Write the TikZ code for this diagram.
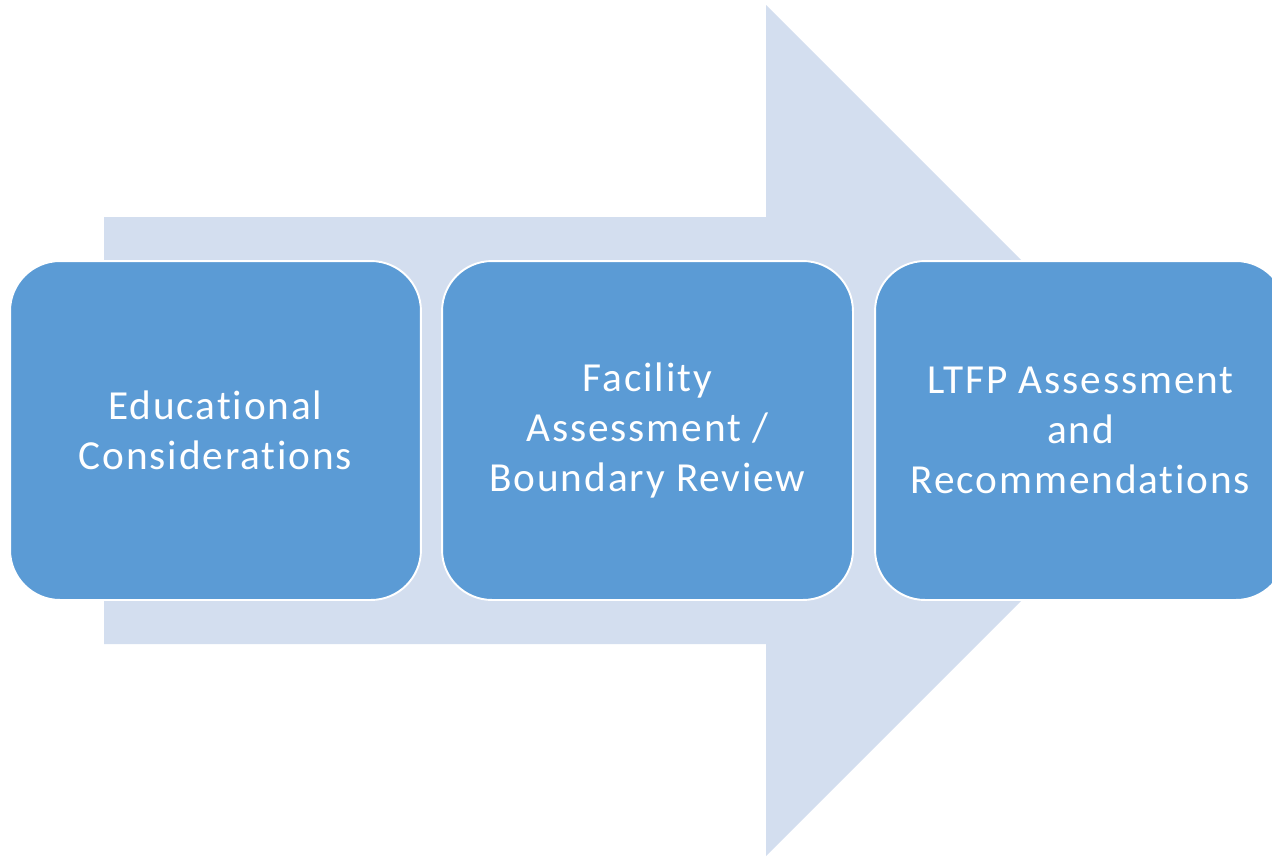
\documentclass[tikz,border=0pt]{standalone}
\usepackage{fontspec}
\setmainfont{Carlito}[LetterSpace=4.5,Ligatures=NoCommon]
\definecolor{arrowfill}{HTML}{D3DEEF}
\definecolor{boxfill}{HTML}{5B9BD5}
\begin{document}
\begin{tikzpicture}[x=0.02cm,y=-0.02cm,
  stage/.style={draw=white, line width=1.1pt, fill=boxfill, rounded corners=1cm,
    minimum width=8.22cm, minimum height=6.78cm, text=white, align=center,
    font=\fontsize{23.5}{28.3}\selectfont, inner sep=0pt}]
  \useasboundingbox (0,0) rectangle (1272,856);
  \begin{scope}
    \clip (0,0) rectangle (1272,856);
    % background process arrow
    \fill[arrowfill] (104,217) -- (766,217) -- (766,5) -- (1191.5,430.5)
      -- (766,856) -- (766,644) -- (104,644) -- cycle;
    % stages
    \node[stage] (s1) at (215.5,430.5) {Educational\\Considerations};
    \node[stage] (s2) at (647.5,430.5) {Facility\\Assessment /\\Boundary Review};
    \node[stage] (s3) at (1080.5,430.5) {LTFP Assessment\\and\\Recommendations};
  \end{scope}
\end{tikzpicture}
\end{document}
